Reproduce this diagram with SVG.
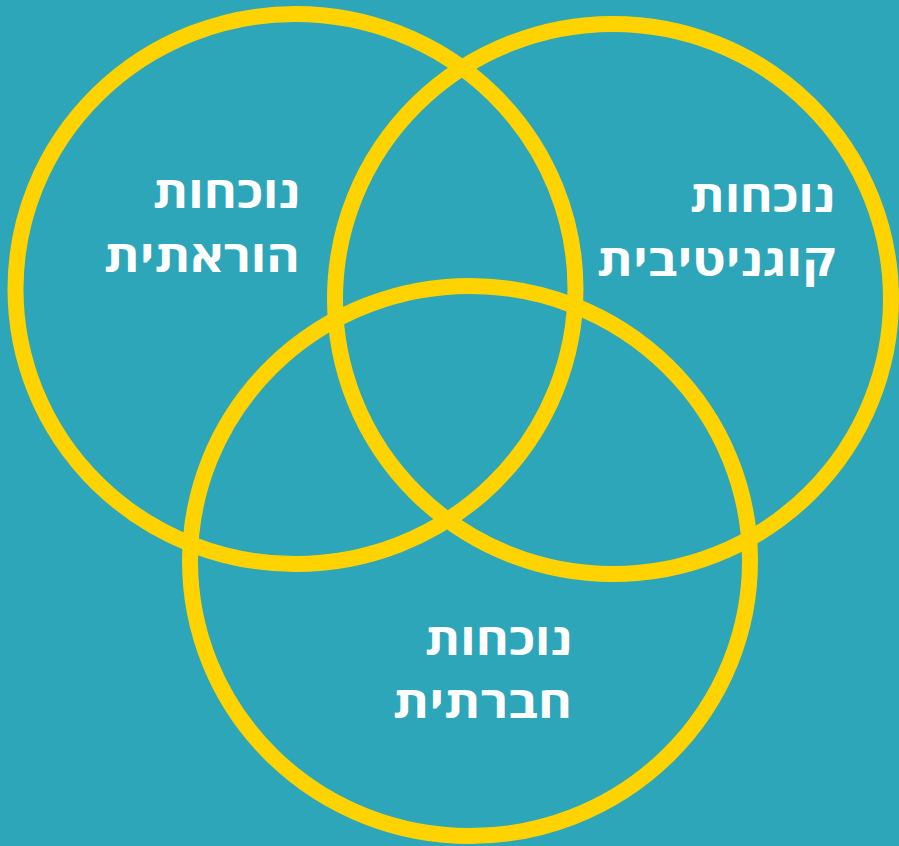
<svg xmlns="http://www.w3.org/2000/svg" width="899" height="846" viewBox="0 0 899 846">
<style>
.ring{fill:none;stroke:#FFD300;stroke-width:16}
.lbl{fill:#FFFFFF;font-family:"Open Sans","DejaVu Sans","Liberation Sans",sans-serif;font-weight:bold;font-size:44px;text-anchor:end}
</style>
<rect x="0" y="0" width="899" height="846" fill="#2CA6B8"/>
<g id="visual">
<ellipse class="ring" cx="295.5" cy="289" rx="280" ry="275"/>
<text class="lbl" x="300" y="208" textLength="147" lengthAdjust="spacingAndGlyphs">נוכחות</text>
<text class="lbl" x="300" y="272" textLength="196" lengthAdjust="spacingAndGlyphs">הוראתית</text>
</g>
<g id="cognitive">
<ellipse class="ring" cx="613" cy="299" rx="278" ry="275"/>
<text class="lbl" x="835" y="212" textLength="145" lengthAdjust="spacingAndGlyphs">נוכחות</text>
<text class="lbl" x="835" y="276" textLength="238" lengthAdjust="spacingAndGlyphs">קוגניטיבית</text>
</g>
<g id="social">
<ellipse class="ring" cx="470" cy="561" rx="280" ry="275"/>
<text class="lbl" x="572" y="655" textLength="147" lengthAdjust="spacingAndGlyphs">נוכחות</text>
<text class="lbl" x="572" y="718" textLength="179" lengthAdjust="spacingAndGlyphs">חברתית</text>
</g>
<g id="connectors"></g>
</svg>
